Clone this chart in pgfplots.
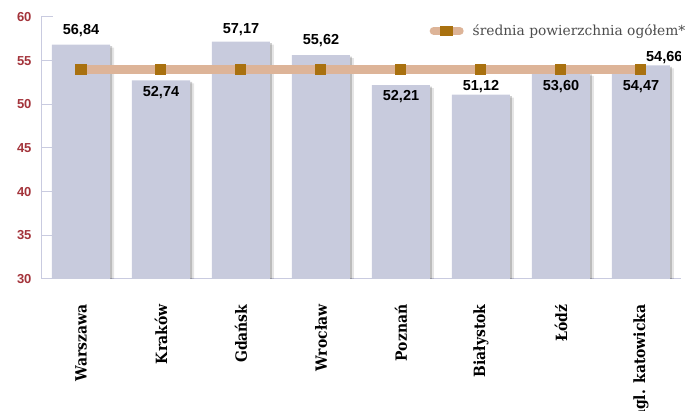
\documentclass[border=0pt]{standalone}
\usepackage{pgfplots}
\usepackage{pgfplotstable}
\pgfplotsset{compat=1.18}
\usepackage{fontspec}
\setmainfont{DejaVu Serif}
\newfontfamily\condfont{DejaVu Serif Condensed}
\newfontfamily\numfont{Liberation Sans}
\definecolor{barcol}{HTML}{C8CBDD}
\definecolor{axiscol}{HTML}{C9CBE0}
\definecolor{linecol}{HTML}{DDB498}
\definecolor{markcol}{HTML}{A9710F}
\definecolor{tickcol}{HTML}{A3333A}
\pgfplotstableread{
x y
0 56.84
1 52.74
2 57.17
3 55.62
4 52.21
5 51.12
6 53.60
7 54.47
}\bars
\begin{document}
\begin{tikzpicture}
\path[use as bounding box] (-41pt,-132pt) rectangle (647pt,279pt);
\clip (-41pt,-132pt) rectangle (647pt,279pt);
\begin{axis}[
  at={(0pt,0pt)}, anchor=south west,
  scale only axis, width=640pt, height=262pt,
  xmin=-0.5, xmax=7.5, ymin=30, ymax=60,
  axis x line*=bottom, axis y line*=left,
  axis line style={axiscol, line width=1pt},
  ytick={30,35,...,60},
  ytick style={axiscol, line width=1pt},
  tick align=inside, major tick length=12pt,
  /pgf/number format/assume math mode=true,
  yticklabel style={font=\numfont\bfseries\fontsize{13}{13}\selectfont, text=tickcol},
  yticklabel shift=6pt,
  xtick={0,...,7},
  xticklabels={Warszawa,Kraków,Gdańsk,Wrocław,Poznań,Białystok,Łódź,agl. katowicka},
  xtick style={draw=none},
  xticklabel style={rotate=90, anchor=east, font=\condfont\bfseries\fontsize{15.5}{15.5}\selectfont},
  xticklabel shift=22pt,
  legend style={at={(axis description cs:0.607,0.947)}, anchor=west, draw=none, fill=none,
    font=\fontsize{13.8}{13.8}\selectfont, text=black!70, inner sep=0pt,
    nodes={inner sep=2pt}},
  legend cell align=left,
]
\addplot[ybar, bar width=58pt, bar shift=4pt, yshift=-3pt, fill=black, fill opacity=0.10, draw=none, forget plot]
  table[x=x, y=y] {\bars};
\addplot[ybar, bar width=58pt, bar shift=2pt, yshift=-1.5pt, fill=black, fill opacity=0.18, draw=none, forget plot]
  table[x=x, y=y] {\bars};
\addplot[ybar, bar width=58pt, fill=barcol, draw=none, forget plot] table[x=x, y=y] {\bars};
\pgfplotsinvokeforeach{0.5,1.5,...,7.5}{
  \draw[axiscol, line width=1pt] (axis cs:#1,30) -- ++(0,7pt);
}
\addplot[linecol, line width=9pt, mark=square*, mark size=5pt,
  mark options={fill=markcol, draw=markcol, line width=0pt},
  legend image code/.code={
    \path[draw=none, fill=none] (0pt,0pt) -- (41pt,0pt);
    \draw[linecol, line width=8pt, line cap=round] (4pt,0pt) -- (30pt,0pt);
    \path[fill=markcol, draw=none] (10.5pt,-5pt) rectangle (23.5pt,5pt);
  }] coordinates {
  (0,54.04) (1,54.04) (2,54.04) (3,54.04) (4,54.04) (5,54.04) (6,54.04) (7,54.04)};
\addlegendentry{średnia powierzchnia ogółem*}
\begin{scope}[every node/.style={font=\numfont\bfseries\fontsize{14.5}{14.5}\selectfont}]
\node at (axis cs:0,58.45) {56,84};
\node at (axis cs:1,51.4) {52,74};
\node at (axis cs:2,58.6) {57,17};
\node at (axis cs:3,57.35) {55,62};
\node at (axis cs:4,50.9) {52,21};
\node at (axis cs:5,52.0) {51,12};
\node at (axis cs:6,52.0) {53,60};
\node at (axis cs:7,52.0) {54,47};
\node[anchor=east, xshift=5pt] at (axis cs:7.5,55.3) {54,66};
\end{scope}
\end{axis}
\end{tikzpicture}
\end{document}
